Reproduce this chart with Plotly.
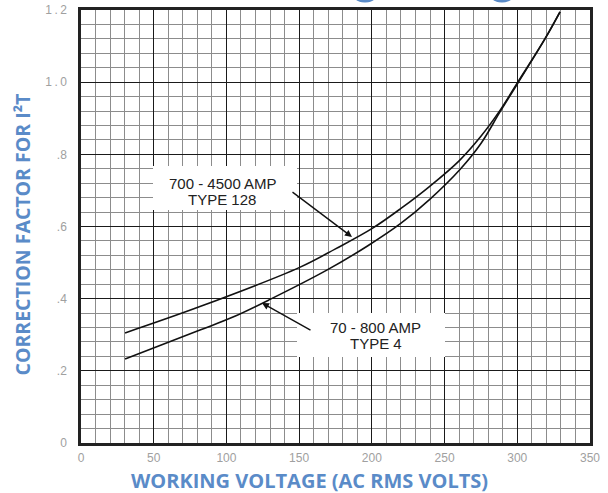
import plotly.graph_objects as go

# Data
type128_volts = [30.3, 81.8, 150, 175, 200, 220, 240, 260, 275, 288, 300, 319, 329.4]
type128_factor = [0.305, 0.378, 0.486, 0.538, 0.594, 0.650, 0.712, 0.782, 0.850, 0.921, 0.998, 1.12, 1.195]

type4_volts = [30.3, 81.8, 104.5, 130, 169, 197, 219.4, 240, 260.6, 275, 288, 300, 319, 329.4]
type4_factor = [0.233, 0.313, 0.349, 0.398, 0.479, 0.546, 0.607, 0.676, 0.758, 0.830, 0.917, 0.995, 1.12, 1.195]

x_ticks = [0, 50, 100, 150, 200, 250, 300, 350]
y_ticks = [0, 0.2, 0.4, 0.6, 0.8, 1.0, 1.2]
y_tick_labels = ["0", ".2", ".4", ".6", ".8", "1\u2009.\u20090", "1\u2009.\u20092"]

label_128 = ["700 - 4500 AMP", "TYPE 128"]
label_4 = ["70 - 800 AMP", "TYPE 4"]
x_title = "WORKING VOLTAGE (AC RMS VOLTS)"
y_title = "CORRECTION FACTOR FOR I\u00b2T"

BLUE = "#5a8bc8"
TICK_GREY = "#a0a0a0"

fig = go.Figure()
fig.add_trace(go.Scatter(x=type128_volts, y=type128_factor, mode="lines",
                         line=dict(color="#111111", width=1.6, shape="spline", smoothing=1.0),
                         name="700 - 4500 AMP TYPE 128", showlegend=False))
fig.add_trace(go.Scatter(x=type4_volts, y=type4_factor, mode="lines",
                         line=dict(color="#111111", width=1.6, shape="spline", smoothing=1.0),
                         name="70 - 800 AMP TYPE 4", showlegend=False))

# helpers: pixel -> data / paper (plot area 81..590 x, 10..443 y)
def px_x(p):
    return (p - 81) / (509 / 350)

def px_y(p):
    return (443 - p) / (433 / 1.2)

def paper_x(p):
    return (p - 81) / 509

def paper_y(p):
    return (443 - p) / 433

shapes = [
    dict(type="rect", xref="x", yref="y", x0=px_x(153), x1=px_x(297), y0=px_y(210), y1=px_y(166),
         fillcolor="white", line=dict(width=0), layer="above"),
    dict(type="rect", xref="x", yref="y", x0=px_x(297), x1=px_x(445), y0=px_y(357), y1=px_y(313),
         fillcolor="white", line=dict(width=0), layer="above"),
    # fragments of blue lettering cut off at the top edge
    dict(type="circle", xref="paper", yref="paper",
         x0=paper_x(348), x1=paper_x(382), y0=paper_y(2.5), y1=paper_y(-32),
         fillcolor=BLUE, line=dict(width=0), layer="above"),
    dict(type="circle", xref="paper", yref="paper",
         x0=paper_x(485), x1=paper_x(519), y0=paper_y(2.5), y1=paper_y(-32),
         fillcolor=BLUE, line=dict(width=0), layer="above"),
]

txt_font = dict(family="Liberation Sans, Arial, sans-serif", size=15, color="#222222")
title_font_x = dict(family="Open Sans, sans-serif", size=20, color=BLUE, weight="bold")
title_font_y = dict(family="Open Sans, sans-serif", size=19.5, color=BLUE, weight="bold")
annotations = [
    dict(x=px_x(222.5), y=px_y(183), xref="x", yref="y", text=label_128[0], showarrow=False, font=txt_font),
    dict(x=px_x(222), y=px_y(199), xref="x", yref="y", text=label_128[1], showarrow=False, font=txt_font),
    dict(x=px_x(375.5), y=px_y(327), xref="x", yref="y", text=label_4[0], showarrow=False, font=txt_font),
    dict(x=px_x(376), y=px_y(343), xref="x", yref="y", text=label_4[1], showarrow=False, font=txt_font),
    # arrows
    dict(x=px_x(352), y=px_y(237), ax=px_x(291), ay=px_y(191), xref="x", yref="y", axref="x", ayref="y",
         text="", showarrow=True, arrowhead=2, arrowsize=1, arrowwidth=1.4, arrowcolor="#111111"),
    dict(x=px_x(262), y=px_y(303), ax=px_x(312), ay=px_y(331), xref="x", yref="y", axref="x", ayref="y",
         text="", showarrow=True, arrowhead=2, arrowsize=1, arrowwidth=1.4, arrowcolor="#111111"),
    # axis titles
    dict(x=paper_x(309), y=paper_y(480), xref="paper", yref="paper", text=x_title, showarrow=False,
         xanchor="center", yanchor="middle", font=title_font_x),
    dict(x=paper_x(21.5), y=paper_y(235), xref="paper", yref="paper", text=y_title, showarrow=False,
         textangle=-90, xanchor="center", yanchor="middle", font=title_font_y),
]

fig.update_layout(
    width=608, height=493,
    margin=dict(l=81, r=18, t=10, b=50, autoexpand=False),
    paper_bgcolor="white", plot_bgcolor="white",
    shapes=shapes, annotations=annotations,
    showlegend=False,
)

fig.update_xaxes(
    range=[0, 350], tickvals=x_ticks, ticktext=[str(v) for v in x_ticks],
    automargin=False,
    showgrid=True, gridcolor="#1a1a1a", gridwidth=1.4,
    minor=dict(dtick=10, showgrid=True, gridcolor="#8c8c8c", gridwidth=1),
    showline=True, linecolor="#222222", linewidth=2.5, mirror=True,
    zeroline=False, ticks="", ticklabelstandoff=2,
    tickfont=dict(family="Liberation Sans, Arial, sans-serif", size=12, color=TICK_GREY),
)
fig.update_yaxes(
    range=[0, 1.2], tickvals=y_ticks, ticktext=y_tick_labels,
    automargin=False,
    showgrid=True, gridcolor="#1a1a1a", gridwidth=1.4,
    minor=dict(dtick=0.04, tick0=0, showgrid=True, gridcolor="#8c8c8c", gridwidth=1),
    showline=True, linecolor="#222222", linewidth=2.5, mirror=True,
    zeroline=False, ticks="", ticklabelstandoff=9,
    tickfont=dict(family="Liberation Sans, Arial, sans-serif", size=12, color=TICK_GREY),
)

fig.write_html("out.html", config={"displayModeBar": False},
               post_script="document.body.style.margin='0';document.body.style.overflow='hidden';")
